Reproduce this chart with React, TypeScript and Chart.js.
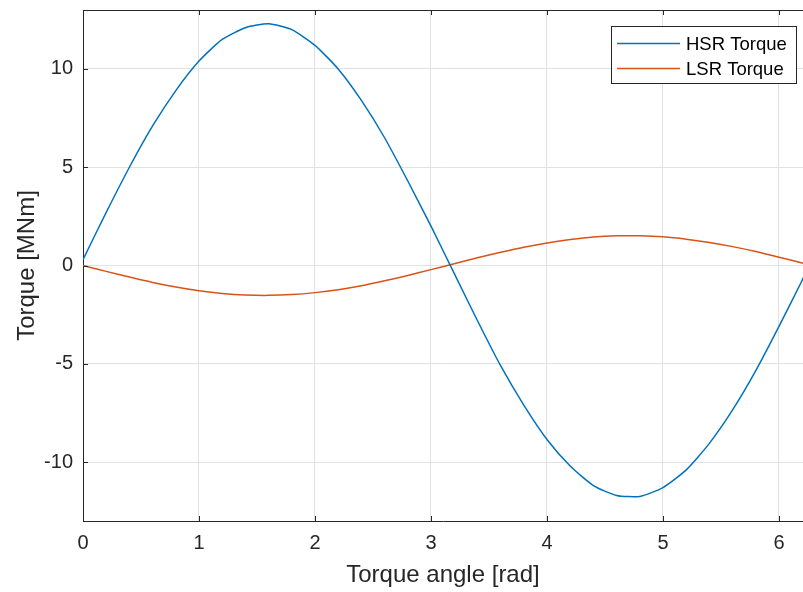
import React, { useEffect, useRef } from "react";
import { Chart, registerables } from "chart.js";

Chart.register(...registerables);

const angles = [0, 0.2, 0.4, 0.6, 0.8, 1.0, 1.2, 1.4, 1.6, 1.8, 2.0, 2.2, 2.4, 2.6, 2.8, 3.0, 3.2, 3.4, 3.6, 3.8, 4.0, 4.2, 4.4, 4.6, 4.8, 5.0, 5.2, 5.4, 5.6, 5.8, 6.0, 6.2, 6.2832];
const hsrTorque = [0.3, 2.7, 5.0, 7.1, 8.9, 10.4, 11.5, 12.1, 12.3, 12.0, 11.2, 10.0, 8.4, 6.5, 4.3, 2.0, -0.4, -2.8, -5.1, -7.1, -8.85, -10.2, -11.2, -11.7, -11.75, -11.3, -10.4, -9.05, -7.35, -5.35, -3.1, -0.75, 0.3];
const lsrTorque = [0, -0.3, -0.59, -0.86, -1.09, -1.28, -1.42, -1.5, -1.52, -1.48, -1.38, -1.23, -1.03, -0.78, -0.51, -0.21, 0.09, 0.39, 0.67, 0.93, 1.15, 1.32, 1.45, 1.51, 1.51, 1.46, 1.34, 1.17, 0.96, 0.71, 0.42, 0.13, 0];
const seriesNames = ["HSR Torque", "LSR Torque"];
const seriesColors = ["#0072BD", "#D95319"];
const xTitle = "Torque angle [rad]";
const yTitle = "Torque [MNm]";

const FONT = '"Liberation Sans", Arial, Helvetica, sans-serif';
const AXIS = "#262626";
const GRID = "#e2e2e2";

const framePlugin = {
  id: "frame",
  afterDatasetsDraw(chart: any) {
    const { ctx, chartArea } = chart;
    const { left, right, top, bottom } = chartArea;
    ctx.save();
    ctx.strokeStyle = AXIS;
    ctx.lineWidth = 1;
    ctx.beginPath();
    ctx.moveTo(left, top + 0.5);
    ctx.lineTo(right, top + 0.5);
    ctx.stroke();
    const xs = chart.scales.x;
    const ys = chart.scales.y;
    const tl = 5;
    xs.ticks.forEach((t: any) => {
      const px = Math.round(xs.getPixelForValue(t.value)) + 0.5;
      ctx.beginPath();
      ctx.moveTo(px, bottom);
      ctx.lineTo(px, bottom - tl);
      ctx.moveTo(px, top);
      ctx.lineTo(px, top + tl);
      ctx.stroke();
    });
    ys.ticks.forEach((t: any) => {
      const py = Math.round(ys.getPixelForValue(t.value)) + 0.5;
      ctx.beginPath();
      ctx.moveTo(left, py);
      ctx.lineTo(left + tl, py);
      ctx.stroke();
    });
    const bx = 611, by = 26, bw = 185, bh = 57;
    ctx.fillStyle = "#ffffff";
    ctx.fillRect(bx, by, bw, bh);
    ctx.strokeStyle = AXIS;
    ctx.strokeRect(bx + 0.5, by + 0.5, bw, bh);
    ctx.font = `18.5px ${FONT}`;
    ctx.textBaseline = "middle";
    ctx.textAlign = "left";
    seriesNames.forEach((name, i) => {
      const y = by + 17.5 + i * 25;
      ctx.strokeStyle = seriesColors[i];
      ctx.lineWidth = 1.5;
      ctx.beginPath();
      ctx.moveTo(617, y);
      ctx.lineTo(680, y);
      ctx.stroke();
      ctx.fillStyle = "#000000";
      ctx.fillText(name, 686, y + 1);
    });
    ctx.restore();
  },
};

export default function App() {
  const ref = useRef<HTMLCanvasElement | null>(null);
  useEffect(() => {
    if (!ref.current) return;
    const chart = new Chart(ref.current, {
      type: "line",
      data: {
        datasets: [
          {
            label: seriesNames[0],
            data: angles.map((a, i) => ({ x: a, y: hsrTorque[i] })),
            borderColor: seriesColors[0],
            borderWidth: 1.5,
            pointRadius: 0,
            tension: 0.2,
            fill: false,
          },
          {
            label: seriesNames[1],
            data: angles.map((a, i) => ({ x: a, y: lsrTorque[i] })),
            borderColor: seriesColors[1],
            borderWidth: 1.5,
            pointRadius: 0,
            tension: 0.2,
            fill: false,
          },
        ],
      },
      options: {
        responsive: false,
        animation: false,
        devicePixelRatio: 1,
        layout: { padding: { top: 10, left: 0, right: 0, bottom: 0 } },
        plugins: {
          legend: { display: false },
          tooltip: { enabled: false },
        },
        scales: {
          x: {
            type: "linear",
            min: 0,
            max: 6.207,
            afterFit: (s: any) => {
              s.height = 71;
              s.paddingLeft = 0;
              s.paddingRight = 0;
            },
            ticks: {
              stepSize: 1,
              includeBounds: false,
              color: AXIS,
              font: { family: FONT, size: 20 },
              padding: 10,
              maxRotation: 0,
            },
            grid: { color: GRID, drawTicks: false, lineWidth: 1 },
            border: { color: AXIS, width: 1 },
            title: {
              display: true,
              text: xTitle,
              color: AXIS,
              font: { family: FONT, size: 24 },
              padding: { top: 0, bottom: 2 },
            },
          },
          y: {
            type: "linear",
            min: -13,
            max: 13,
            afterFit: (s: any) => {
              s.width = 83;
              s.paddingTop = 0;
              s.paddingBottom = 0;
            },
            ticks: {
              stepSize: 5,
              includeBounds: false,
              color: AXIS,
              font: { family: FONT, size: 20 },
              padding: 10,
            },
            grid: { color: GRID, drawTicks: false, lineWidth: 1 },
            border: { color: AXIS, width: 1 },
            title: {
              display: true,
              text: yTitle,
              color: AXIS,
              font: { family: FONT, size: 24 },
              padding: { top: 13, bottom: 0 },
            },
          },
        },
      },
      plugins: [framePlugin],
    });
    return () => chart.destroy();
  }, []);
  return (
    <div style={{ position: "fixed", left: 0, top: 0, width: 803, height: 592, background: "#fff" }}>
      <canvas ref={ref} width={803} height={592} style={{ width: 803, height: 592, display: "block" }} />
    </div>
  );
}
